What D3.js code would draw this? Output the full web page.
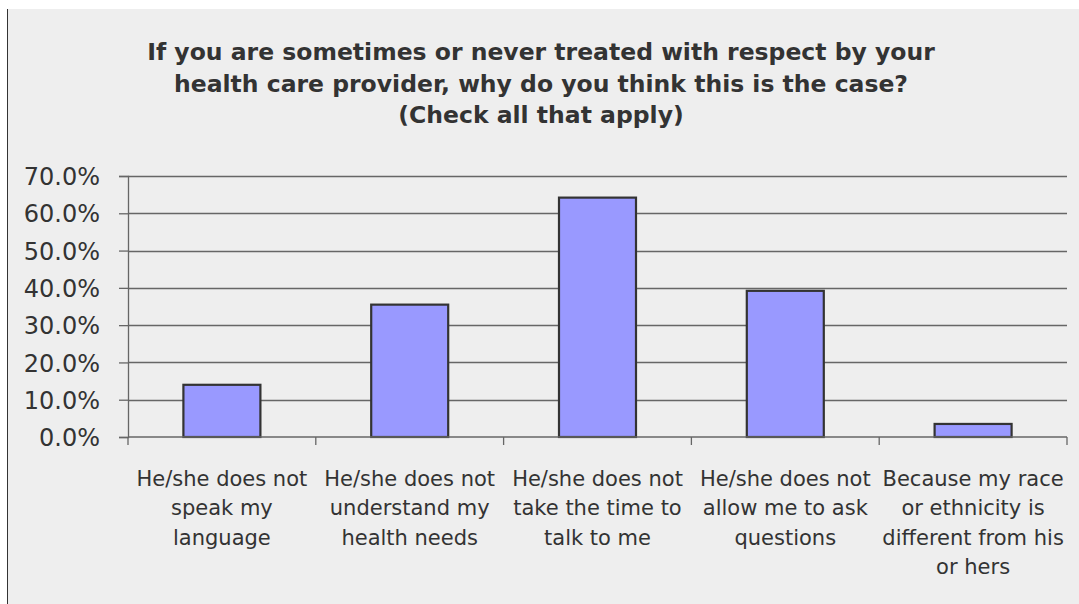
<!DOCTYPE html>
<html>
<head>
<meta charset="utf-8">
<script src="https://cdn.jsdelivr.net/npm/d3@7"></script>
<style>
  html, body { margin: 0; padding: 0; background: #fff; }
  svg { display: block; }
</style>
</head>
<body>
<svg width="1079" height="604"></svg>
<script>
const titleLines = [
  "If you are sometimes or never treated with respect by your",
  "health care provider, why do you think this is the case?",
  "(Check all that apply)"
];

// category labels, already broken the way the chart shows them
const categories = [
  ["He/she does not", "speak my", "language"],
  ["He/she does not", "understand my", "health needs"],
  ["He/she does not", "take the time to", "talk to me"],
  ["He/she does not", "allow me to ask", "questions"],
  ["Because my race", "or ethnicity is", "different from his", "or hers"]
];
const values = [0.14, 0.355, 0.642, 0.392, 0.035];
const yTicks = [0, 0.1, 0.2, 0.3, 0.4, 0.5, 0.6, 0.7];

const W = 1079, H = 604;
const margin = {left: 128, right: 12, top: 176, bottom: 167};
const INK = '#333';
const FONT = "DejaVu Sans, Verdana, sans-serif";

const svg = d3.select("svg");

// panel
svg.append("rect")
  .attr("x", 8).attr("y", 9)
  .attr("width", W - 8).attr("height", H - 9)
  .attr("fill", "#eeeeee");
svg.append("line")
  .attr("x1", 7.5).attr("x2", 7.5)
  .attr("y1", 9).attr("y2", H)
  .attr("stroke", INK).attr("stroke-width", 1);

const x = d3.scaleBand()
  .domain(d3.range(categories.length))
  .range([margin.left, W - margin.right])
  .paddingInner(0.59).paddingOuter(0.295);

const y = d3.scaleLinear()
  .domain([0, 0.7])
  .range([H - margin.bottom, margin.top]);

// gridlines
svg.append("g")
  .selectAll("line")
  .data(yTicks.slice(1))
  .join("line")
  .attr("x1", margin.left).attr("x2", W - margin.right)
  .attr("y1", d => Math.round(y(d)) + 0.5).attr("y2", d => Math.round(y(d)) + 0.5)
  .attr("stroke", "#666").attr("stroke-width", 1.3);

// y axis
const yAxis = svg.append("g")
  .attr("transform", `translate(${margin.left},0)`)
  .call(d3.axisLeft(y).tickValues(yTicks).tickFormat(d3.format(".1%")).tickSize(9).tickPadding(19));
yAxis.select(".domain").attr("stroke", "#666").attr("stroke-width", 1.3);
yAxis.selectAll(".tick line").attr("stroke", "#666").attr("stroke-width", 1.3);
yAxis.selectAll("text")
  .attr("fill", INK)
  .attr("dy", "0.36em")
  .style("font-family", FONT)
  .style("font-size", "24px");

// bars
svg.append("g")
  .selectAll("rect")
  .data(values)
  .join("rect")
  .attr("x", (d, i) => x(i))
  .attr("y", d => y(d))
  .attr("width", x.bandwidth())
  .attr("height", d => y(0) - y(d))
  .attr("fill", "#9999ff")
  .attr("stroke", INK)
  .attr("stroke-width", 2.2);

// x axis baseline and category separators
const step = (W - margin.right - margin.left) / categories.length;
svg.append("line")
  .attr("x1", margin.left).attr("x2", W - margin.right)
  .attr("y1", y(0)).attr("y2", y(0))
  .attr("stroke", "#666").attr("stroke-width", 1.3);
svg.append("g")
  .selectAll("line")
  .data(d3.range(categories.length + 1))
  .join("line")
  .attr("x1", i => margin.left + i * step).attr("x2", i => margin.left + i * step)
  .attr("y1", y(0)).attr("y2", y(0) + 8)
  .attr("stroke", "#666").attr("stroke-width", 1.3);

// category labels
const labels = svg.append("g")
  .selectAll("text")
  .data(categories)
  .join("text")
  .attr("x", (d, i) => x(i) + x.bandwidth() / 2)
  .attr("y", 486)
  .attr("text-anchor", "middle")
  .attr("fill", INK)
  .style("font-family", FONT)
  .style("font-size", "21px");
labels.selectAll("tspan")
  .data(d => d)
  .join("tspan")
  .attr("x", function () { return this.parentNode.getAttribute("x"); })
  .attr("dy", (d, i) => i === 0 ? 0 : 29.3)
  .text(d => d);

// title
svg.append("text")
  .attr("text-anchor", "middle")
  .attr("fill", INK)
  .style("font-family", FONT)
  .style("font-weight", "bold")
  .style("font-size", "23.5px")
  .selectAll("tspan")
  .data(titleLines)
  .join("tspan")
  .attr("x", 541)
  .attr("y", (d, i) => 60 + i * 31.5)
  .text(d => d);
</script>
</body>
</html>
